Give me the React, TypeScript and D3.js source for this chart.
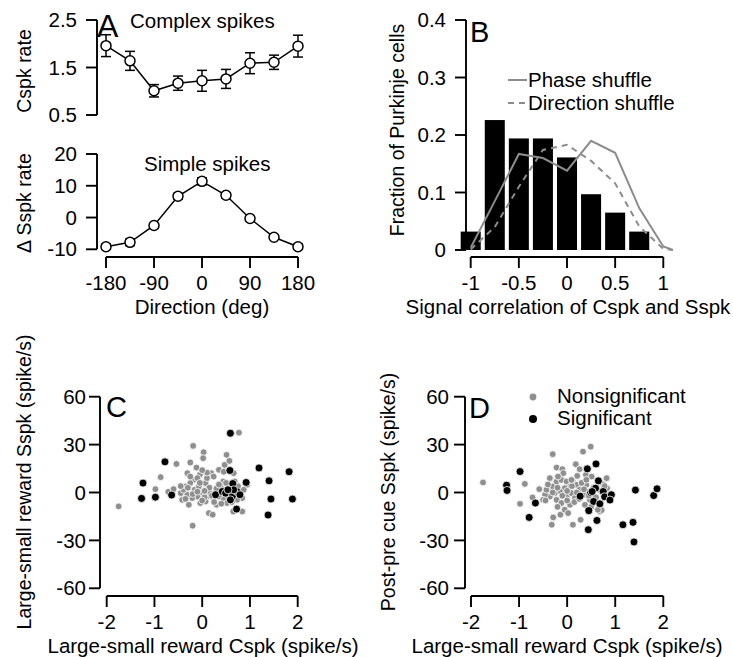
import React from 'react';
import * as d3 from 'd3';

// ---------- Data ----------
const directions = [-180, -135, -90, -45, 0, 45, 90, 135, 180];
const cspkRate = [1.96, 1.64, 1.01, 1.17, 1.22, 1.26, 1.59, 1.61, 1.95];
const cspkErr = [0.23, 0.2, 0.13, 0.15, 0.22, 0.2, 0.22, 0.15, 0.23];
const sspkRate = [-9.2, -7.8, -2.5, 6.7, 11.4, 7.0, -0.3, -6.2, -9.2];
const sspkErr = [0.8, 1.0, 0.6, 0.9, 1.1, 0.8, 0.6, 0.6, 0.8];

const cspkTicks = [0.5, 1.5, 2.5];
const sspkTicks = [-10, 0, 10, 20];
const dirTicks = [-180, -90, 0, 90, 180];

const binCenters = [-1, -0.75, -0.5, -0.25, 0, 0.25, 0.5, 0.75];
const binFractions = [0.032, 0.226, 0.194, 0.194, 0.161, 0.097, 0.065, 0.032];
const shuffleX = [-1, -0.75, -0.5, -0.25, 0, 0.25, 0.5, 0.75, 1, 1.1];
const phaseShuffle = [0.004, 0.085, 0.167, 0.16, 0.138, 0.19, 0.169, 0.073, 0.006, 0.0];
const directionShuffle = [0.001, 0.04, 0.11, 0.174, 0.183, 0.155, 0.116, 0.041, 0.002, 0.0];
const fracTicks = [0, 0.1, 0.2, 0.3, 0.4];
const corrTicks = [-1, -0.5, 0, 0.5, 1];

const scatterXTicks = [-2, -1, 0, 1, 2];
const scatterYTicks = [-60, -30, 0, 30, 60];

const cNonsig: [number, number][] = [
  [-1.75, -8.7], [-0.98, 2.1], [-0.87, 9.6], [-0.54, 17.9], [-0.71, 0.4], [-0.6, 2.1],
  [-0.19, 29.2], [0.03, 25.2], [0.02, 21.5], [-0.25, 18.8], [-0.12, 15.6], [-0.05, 11.1],
  [-0.31, 12.1], [-0.18, 7.9], [0.19, 12.1], [0.24, 10], [0.35, 14.2], [0.47, 17.3],
  [0.51, 23.6], [0.57, 19.8], [0.66, 12.1], [0.77, 37.5], [-0.2, -20.8], [0.14, -12.9],
  [0.22, -13.9], [0.65, -11.9], [0.84, -11.9], [0.84, -3.5], [0.94, 4.8], [-0.04, -6.6],
  [-0.28, -7.7], [-0.42, -4.6], [-0.45, -0.4], [-0.35, 3.8], [-0.25, 5.9], [-0.16, 1.7],
  [-0.07, 3.8], [0, -0.4], [0.07, 5.9], [0.14, 1.7], [0.1, -2.5], [0.24, -4.6],
  [0.35, -2.5], [0.38, 3.8], [0.45, -4.6], [-0.1, -2.5], [-0.21, -3.5], [-0.31, -1.4],
  [-0.39, 1.7], [0.07, -5.6], [0.17, -0.4], [0.28, 0.6], [-0.1, 9], [0.1, 9],
  [0.66, 3.8], [0.56, 1.7], [0.8, -0.4], [0.87, 1.7], [0.44, 6.9], [0.52, -6.6],
  [0.73, -4.6], [0.3, -7.7], [-0.3, 3], [-0.2, -1], [-0.1, 0.5], [0.05, -3],
  [0.15, 3], [0.2, -2], [0.3, 2.5], [0.45, 1], [0.55, -2], [0.6, 3], [0.7, -1],
  [0.75, 4], [-0.05, 6], [0.05, 1], [0.25, -6], [0.4, -7], [0.62, -6], [-0.35, -4],
  [-0.45, 4], [0.0, -5], [0.35, 5], [0.5, 6], [0.68, 7], [-0.25, 10], [0.1, 12.5],
  [0.0, 14], [0.45, 13],
];
const cSig: [number, number][] = [
  [-1.24, 5.9], [-1.27, -3.7], [-0.98, -2.9], [-0.78, 19.2], [-0.64, -1.6],
  [0.59, 37.1], [0.58, 13.8], [0.64, 5.6], [0.28, -1.4], [0.42, 0.6], [0.49, -0.4],
  [0.63, -2.5], [0.59, -4.6], [0.73, 0.6], [0.79, -1.4], [0.66, 1.7], [0.54, 1.7],
  [0.72, -10.4], [0.92, 6.3], [1.19, 15.4], [1.4, 7.3], [1.44, -4.1], [1.38, -14.1],
  [1.82, 13.0], [1.89, -4.1],
];
const dNonsig: [number, number][] = [
  [-1.75, 6.3], [-0.98, -7.1], [-0.88, 5.4], [-0.72, -3.1], [-0.58, 2.1], [-0.3, 24],
  [-0.32, -20.2], [-0.29, -15.6], [-0.14, -13.9], [-0.22, 15.6], [-0.1, 14.6], [-0.08, 12.1],
  [0.12, -20.2], [0.28, -17.1], [0.33, 25.6], [0.49, 28.7], [0.18, 17.7], [0.26, 14.6],
  [0.39, 11.1], [0.68, -11.9], [0.83, 9], [0.83, 2.7], [-0.36, 9], [-0.3, 3.8],
  [-0.22, 6.9], [-0.12, 7.9], [-0.01, 6.9], [0.11, 7.5], [0.2, 4.8], [0.06, 3.8],
  [-0.05, 2.7], [-0.15, 0.6], [-0.26, -0.4], [-0.36, -2.5], [-0.46, -1.4], [-0.5, -4.6],
  [-0.22, -4.6], [-0.12, -6.6], [-0.01, -2.5], [0.09, -0.4], [0.16, -3.5], [0.26, 1.7],
  [0.35, -1.4], [0.06, -7.7], [-0.05, -10.8], [0.02, -12.9], [0.4, 4.8], [0.47, -4.6],
  [0.37, -7.7], [0.64, 5.9], [-0.43, 1.7], [-0.19, 10], [0.21, 10.4], [0.51, 10],
  [-0.3, 0], [-0.2, 3], [-0.1, -2], [0.0, 1], [0.1, 4], [0.15, -6], [0.25, -4],
  [0.3, 6], [0.35, 2], [0.45, -2], [0.55, 3], [0.6, -3], [0.7, 1], [0.75, 5],
  [-0.4, 5], [-0.45, -5], [0.0, -5], [0.2, 0], [0.4, 8], [-0.2, -9], [0.5, -9],
  [0.72, -11], [0.78, 4], [0.82, 9], [0.09, 7.9], [0.64, -10.8],
];
const dSig: [number, number][] = [
  [-0.98, 13.1], [-1.26, 4.6], [-1.25, 1.3], [-0.66, -6.6], [-0.79, -15.6],
  [0.44, -23.3], [0.42, 14.8], [0.6, 17.9], [0.65, 7.3], [0.59, 2.7], [0.49, 0],
  [0.27, -2.3], [0.55, -5.6], [0.68, -7.1], [0.45, -11.4], [0.62, -17.5], [0.75, 0.6],
  [0.78, -2.7], [0.92, -1.4], [0.89, -4.7], [1.16, -20.2], [1.37, -18.7], [1.39, -31],
  [1.42, 1.5], [1.8, -1.9], [1.87, 2.3], [0.52, 0.6],
];

// ---------- Layout ----------
const FONT = "'Liberation Sans', Arial, Helvetica, sans-serif";
const FS = 20.5;   // horizontal text
const FSV = 19.5;  // rotated axis titles

const xDir = d3.scaleLinear().domain([-180, 180]).range([106, 298]);
const yCspk = d3.scaleLinear().domain([0.5, 2.5]).range([115, 20]);
const ySspk = d3.scaleLinear().domain([-10, 20]).range([249.3, 154]);

const xCorr = d3.scaleLinear().domain([-1, 1]).range([470.7, 663.3]);
const yFrac = d3.scaleLinear().domain([0, 0.4]).range([250, 20]);

const xC = d3.scaleLinear().domain([-2, 2]).range([106.7, 297.7]);
const yC = d3.scaleLinear().domain([-60, 60]).range([588.3, 396.7]);
const xD = d3.scaleLinear().domain([-2, 2]).range([471, 663.3]);
const yD = d3.scaleLinear().domain([-60, 60]).range([588.3, 396.7]);

const AX = { stroke: '#000', strokeWidth: 1.9, fill: 'none' } as const;

function YAxis({ scale, x, ticks, fmt, gap = 9 }: { scale: any; x: number; ticks: number[]; fmt?: (v: number) => string; gap?: number }) {
  const [d0, d1] = scale.domain();
  return (
    <g>
      <line x1={x} x2={x} y1={scale(d0)} y2={scale(d1)} {...AX} />
      {ticks.map((t) => (
        <g key={t}>
          <line x1={x - 11} x2={x} y1={scale(t)} y2={scale(t)} {...AX} />
          <text x={x - 11 - gap} y={scale(t)} dy="0.35em" textAnchor="end" fontSize={FS} fontFamily={FONT}>
            {fmt ? fmt(t) : String(t)}
          </text>
        </g>
      ))}
    </g>
  );
}

function XAxis({ scale, y, ticks, fmt }: { scale: any; y: number; ticks: number[]; fmt?: (v: number) => string }) {
  const [d0, d1] = scale.domain();
  return (
    <g>
      <line x1={scale(d0)} x2={scale(d1)} y1={y} y2={y} {...AX} />
      {ticks.map((t) => (
        <g key={t}>
          <line x1={scale(t)} x2={scale(t)} y1={y} y2={y + 11} {...AX} />
          <text x={scale(t)} y={y + 33} textAnchor="middle" fontSize={FS} fontFamily={FONT}>
            {fmt ? fmt(t) : String(t)}
          </text>
        </g>
      ))}
    </g>
  );
}

function YLabel({ x, y, text }: { x: number; y: number; text: string }) {
  return (
    <text transform={`translate(${x},${y}) rotate(-90)`} textAnchor="middle" fontSize={FSV} fontFamily={FONT}>
      {text}
    </text>
  );
}

function Scatter({ xs, ys, nonsig, sig }: { xs: any; ys: any; nonsig: [number, number][]; sig: [number, number][] }) {
  return (
    <g>
      {nonsig.map((p, i) => (
        <circle key={'n' + i} cx={xs(p[0])} cy={ys(p[1])} r={3.4} fill="#8f8f8f" stroke="#fff" strokeWidth={0.8} />
      ))}
      {sig.map((p, i) => (
        <circle key={'s' + i} cx={xs(p[0])} cy={ys(p[1])} r={4} fill="#000" stroke="#fff" strokeWidth={0.8} />
      ))}
    </g>
  );
}

export default function App() {
  const cspkLine = d3.line<number>().x((_, i) => xDir(directions[i])).y((v) => yCspk(v))(cspkRate) || '';
  const sspkLine = d3.line<number>().x((_, i) => xDir(directions[i])).y((v) => ySspk(v))(sspkRate) || '';
  const phaseLine = d3.line<number>().x((_, i) => xCorr(shuffleX[i])).y((v) => yFrac(v))(phaseShuffle) || '';
  const dirLine = d3.line<number>().x((_, i) => xCorr(shuffleX[i])).y((v) => yFrac(v))(directionShuffle) || '';
  const barHalf = 0.104;
  const fmt1 = (v: number) => (v === 0 ? '0' : d3.format('.1f')(v));

  return (
    <svg width={733} height={657} style={{ position: 'absolute', left: 0, top: 0, background: '#fff' }}>
      <rect x={0} y={0} width={733} height={657} fill="#fff" />

      {/* Panel A top */}
      <YAxis scale={yCspk} x={97} ticks={cspkTicks} fmt={(v) => d3.format('.1f')(v)} />
      <YLabel x={31} y={71} text="Cspk rate" />
      <text x={97} y={37} fontSize={32} fontFamily={FONT}>A</text>
      <text x={130} y={28} fontSize={FS} fontFamily={FONT}>Complex spikes</text>
      <path d={cspkLine} fill="none" stroke="#000" strokeWidth={1.5} />
      {directions.map((d, i) => (
        <g key={'ce' + i}>
          <line x1={xDir(d)} x2={xDir(d)} y1={yCspk(cspkRate[i] - cspkErr[i])} y2={yCspk(cspkRate[i] + cspkErr[i])} stroke="#000" strokeWidth={1.5} />
          <line x1={xDir(d) - 5} x2={xDir(d) + 5} y1={yCspk(cspkRate[i] - cspkErr[i])} y2={yCspk(cspkRate[i] - cspkErr[i])} stroke="#000" strokeWidth={1.5} />
          <line x1={xDir(d) - 5} x2={xDir(d) + 5} y1={yCspk(cspkRate[i] + cspkErr[i])} y2={yCspk(cspkRate[i] + cspkErr[i])} stroke="#000" strokeWidth={1.5} />
          <circle cx={xDir(d)} cy={yCspk(cspkRate[i])} r={5} fill="#fff" stroke="#000" strokeWidth={1.5} />
        </g>
      ))}

      {/* Panel A bottom */}
      <YAxis scale={ySspk} x={97} ticks={sspkTicks} />
      <YLabel x={31} y={203} text="Δ Sspk rate" />
      <text x={144} y={171} fontSize={FS} fontFamily={FONT}>Simple spikes</text>
      <path d={sspkLine} fill="none" stroke="#000" strokeWidth={1.5} />
      {directions.map((d, i) => (
        <g key={'se' + i}>
          <line x1={xDir(d)} x2={xDir(d)} y1={ySspk(sspkRate[i] - sspkErr[i])} y2={ySspk(sspkRate[i] + sspkErr[i])} stroke="#000" strokeWidth={1.5} />
          <line x1={xDir(d) - 5} x2={xDir(d) + 5} y1={ySspk(sspkRate[i] - sspkErr[i])} y2={ySspk(sspkRate[i] - sspkErr[i])} stroke="#000" strokeWidth={1.5} />
          <line x1={xDir(d) - 5} x2={xDir(d) + 5} y1={ySspk(sspkRate[i] + sspkErr[i])} y2={ySspk(sspkRate[i] + sspkErr[i])} stroke="#000" strokeWidth={1.5} />
          <circle cx={xDir(d)} cy={ySspk(sspkRate[i])} r={5} fill="#fff" stroke="#000" strokeWidth={1.5} />
        </g>
      ))}
      <XAxis scale={xDir} y={257} ticks={dirTicks} />
      <text x={202} y={314} textAnchor="middle" fontSize={FS} fontFamily={FONT}>Direction (deg)</text>

      {/* Panel B */}
      {binCenters.map((c, i) => (
        <rect key={'b' + i} x={xCorr(c - barHalf)} y={yFrac(binFractions[i])} width={xCorr(c + barHalf) - xCorr(c - barHalf)} height={yFrac(0) - yFrac(binFractions[i])} fill="#000" />
      ))}
      <path d={phaseLine} fill="none" stroke="#8c8c8c" strokeWidth={2} />
      <path d={dirLine} fill="none" stroke="#8c8c8c" strokeWidth={2} strokeDasharray="6,5" />
      <YAxis scale={yFrac} x={466} ticks={fracTicks} fmt={fmt1} />
      <XAxis scale={xCorr} y={257} ticks={corrTicks} fmt={(v) => String(v)} />
      <YLabel x={404} y={130} text="Fraction of Purkinje cells" />
      <text x={568} y={314} textAnchor="middle" fontSize={FS} fontFamily={FONT}>Signal correlation of Cspk and Sspk</text>
      <text x={470} y={42} fontSize={29} fontFamily={FONT}>B</text>
      <line x1={508} x2={527} y1={80} y2={80} stroke="#8c8c8c" strokeWidth={2} />
      <text x={528} y={87} fontSize={FS} fontFamily={FONT}>Phase shuffle</text>
      <line x1={508} x2={527} y1={103} y2={103} stroke="#8c8c8c" strokeWidth={2} strokeDasharray="6,5" />
      <text x={528} y={110} fontSize={FS} fontFamily={FONT}>Direction shuffle</text>

      {/* Panel C */}
      <Scatter xs={xC} ys={yC} nonsig={cNonsig} sig={cSig} />
      <YAxis scale={yC} x={100} ticks={scatterYTicks} gap={3} />
      <XAxis scale={xC} y={596} ticks={scatterXTicks} />
      <YLabel x={31} y={482} text="Large-small reward Sspk (spike/s)" />
      <text x={203} y={653} textAnchor="middle" fontSize={FS} fontFamily={FONT}>Large-small reward Cspk (spike/s)</text>
      <text x={106} y={417} fontSize={29} fontFamily={FONT}>C</text>

      {/* Panel D */}
      <Scatter xs={xD} ys={yD} nonsig={dNonsig} sig={dSig} />
      <YAxis scale={yD} x={465} ticks={scatterYTicks} gap={5} />
      <XAxis scale={xD} y={596} ticks={scatterXTicks} />
      <YLabel x={395} y={492} text="Post-pre cue Sspk (spike/s)" />
      <text x={567} y={653} textAnchor="middle" fontSize={FS} fontFamily={FONT}>Large-small reward Cspk (spike/s)</text>
      <text x={469} y={418} fontSize={29} fontFamily={FONT}>D</text>
      <circle cx={533} cy={397} r={3.4} fill="#8f8f8f" />
      <text x={557} y={403} fontSize={FS} fontFamily={FONT}>Nonsignificant</text>
      <circle cx={533} cy={419} r={4} fill="#000" />
      <text x={557} y={425} fontSize={FS} fontFamily={FONT}>Significant</text>
    </svg>
  );
}
